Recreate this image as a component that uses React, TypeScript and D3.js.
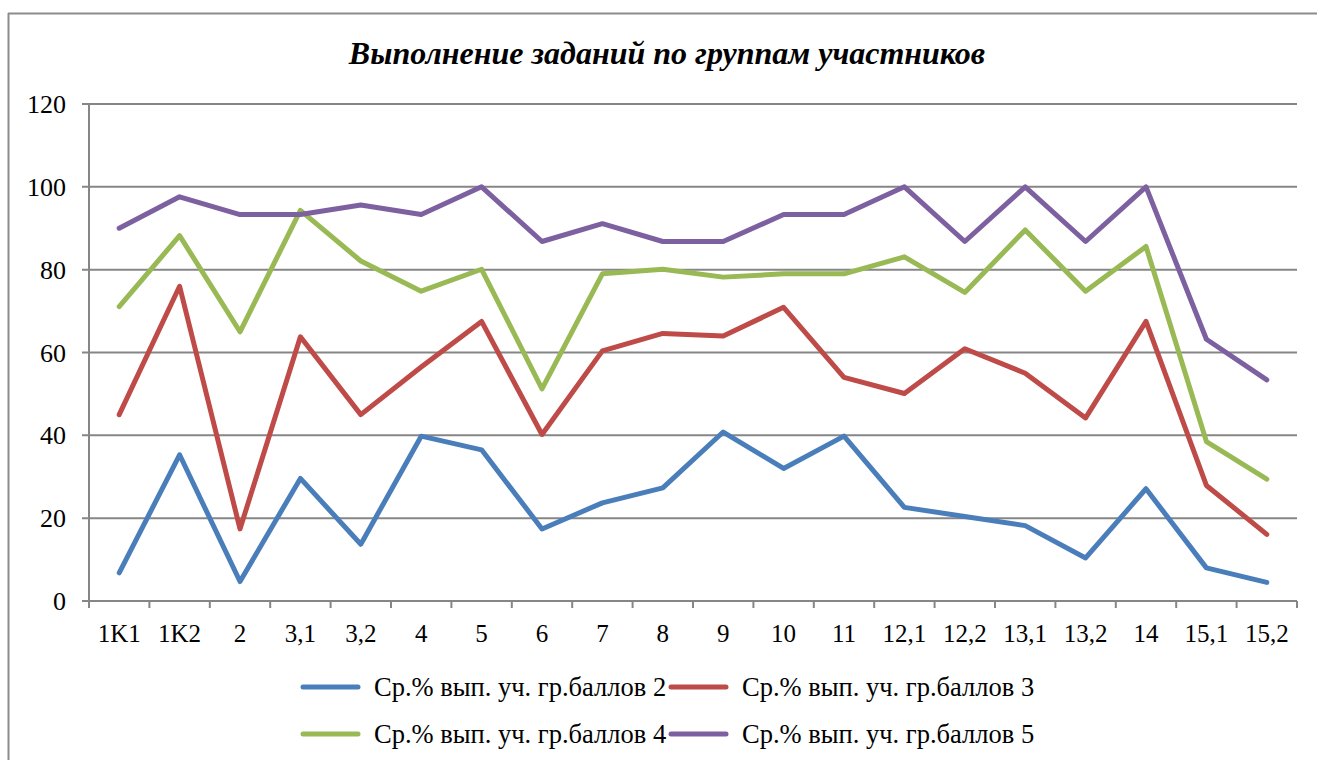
import React from 'react';
import * as d3 from 'd3';

const categories = ['1K1', '1K2', '2', '3,1', '3,2', '4', '5', '6', '7', '8', '9', '10', '11', '12,1', '12,2', '13,1', '13,2', '14', '15,1', '15,2'];

const group2 = [6.8, 35.3, 4.7, 29.6, 13.7, 39.8, 36.5, 17.4, 23.7, 27.3, 40.8, 32.0, 39.8, 22.6, 20.4, 18.2, 10.4, 27.1, 8.0, 4.5];
const group3 = [45.0, 76.0, 17.4, 63.8, 45.0, 56.5, 67.5, 40.2, 60.4, 64.6, 64.0, 70.9, 54.0, 50.1, 60.9, 55.0, 44.2, 67.5, 27.9, 16.1];
const group4 = [71.1, 88.2, 65.0, 94.3, 82.1, 74.8, 80.1, 51.2, 79.0, 80.1, 78.2, 79.0, 79.0, 83.1, 74.5, 89.6, 74.8, 85.6, 38.5, 29.4];
const group5 = [90.0, 97.6, 93.3, 93.3, 95.6, 93.3, 100, 86.8, 91.1, 86.8, 86.8, 93.3, 93.3, 100, 86.8, 100, 86.8, 100, 63.2, 53.4];

const yTicks = [0, 20, 40, 60, 80, 100, 120];

const seriesNames = [
  'Ср.% вып. уч. гр.баллов 2',
  'Ср.% вып. уч. гр.баллов 3',
  'Ср.% вып. уч. гр.баллов 4',
  'Ср.% вып. уч. гр.баллов 5',
];
const seriesColors = ['#4A7EBB', '#BE4B48', '#98B954', '#7D60A0'];

const W = 1317;
const H = 760;
const FONT = 'Liberation Serif';
const GRID = '#868686';

const plot = { left: 89, right: 1297, top: 104, bottom: 601 };

const x = d3.scaleBand<string>().domain(categories).range([plot.left, plot.right]);
const y = d3.scaleLinear().domain([0, 120]).range([plot.bottom, plot.top]);
const cx = (i: number) => (x(categories[i]) || 0) + x.bandwidth() / 2;

const line = d3.line<number>()
  .x((_, i) => cx(i))
  .y(d => y(d));

// legend slots: 2 columns x 2 rows
const legendPos = [
  { lx: 303, ly: 687 },
  { lx: 671, ly: 687 },
  { lx: 303, ly: 734 },
  { lx: 671, ly: 734 },
];

const App: React.FC = () => {
  const series = [group2, group3, group4, group5];
  const bounds = [plot.left, ...categories.map(c => (x(c) || 0) + x.bandwidth())];

  return (
    <svg width={W} height={H} style={{ position: 'absolute', left: 0, top: 0, background: '#fff' }}>
      {/* frame: only top and left edges show */}
      <line x1={8} x2={W} y1={13.5} y2={13.5} stroke="#8c8c8c" strokeWidth={2} />
      <line x1={8.5} x2={8.5} y1={13} y2={H} stroke="#8c8c8c" strokeWidth={2} />

      <text x={667} y={64} textAnchor="middle"
        style={{ fontFamily: FONT, fontSize: 32, fontWeight: 'bold', fontStyle: 'italic' }}>
        Выполнение заданий по группам участников
      </text>

      {/* gridlines + y labels */}
      {yTicks.map(t => (
        <g key={t}>
          <line x1={plot.left - 7} x2={plot.right} y1={y(t)} y2={y(t)} stroke={GRID} strokeWidth={2} />
          <text x={66} y={y(t) + 9} textAnchor="end" style={{ fontFamily: FONT, fontSize: 26 }}>{t}</text>
        </g>
      ))}

      <line x1={plot.left} x2={plot.left} y1={plot.top} y2={plot.bottom + 7} stroke={GRID} strokeWidth={2} />

      {bounds.map((b, i) => (
        <line key={i} x1={b} x2={b} y1={plot.bottom} y2={plot.bottom + 7} stroke={GRID} strokeWidth={2} />
      ))}

      {categories.map((c, i) => (
        <text key={c} x={cx(i)} y={642} textAnchor="middle" style={{ fontFamily: FONT, fontSize: 25 }}>{c}</text>
      ))}

      {series.map((s, i) => (
        <path key={i} d={line(s) || ''} fill="none" stroke={seriesColors[i]} strokeWidth={5}
          strokeLinejoin="round" strokeLinecap="round" />
      ))}

      {seriesNames.map((name, i) => {
        const p = legendPos[i];
        return (
          <g key={name}>
            <line x1={p.lx} x2={p.lx + 55} y1={p.ly} y2={p.ly} stroke={seriesColors[i]} strokeWidth={5} strokeLinecap="round" />
            <text x={p.lx + 71} y={p.ly + 9} style={{ fontFamily: FONT, fontSize: 26.5 }}>{name}</text>
          </g>
        );
      })}
    </svg>
  );
};

export default App;
